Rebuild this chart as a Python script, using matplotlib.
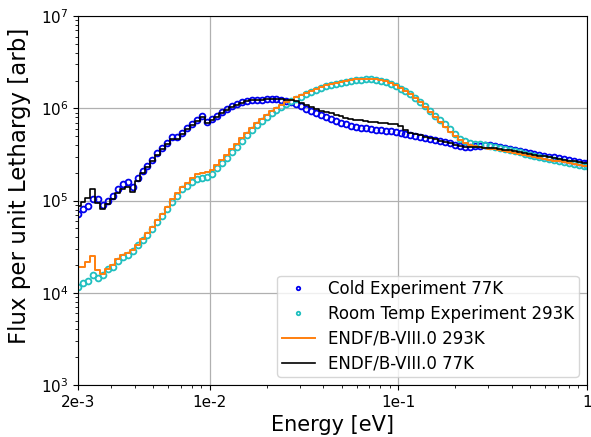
import matplotlib

matplotlib.use("Agg")
import matplotlib.pyplot as plt  # noqa: E402
from matplotlib.ticker import NullFormatter  # noqa: E402

# energy bin centres [eV], shared by all four series
ENERGY = [
    2.000e-3, 2.125e-3, 2.258e-3, 2.399e-3, 2.549e-3, 2.708e-3, 2.877e-3, 3.057e-3, 3.248e-3, 3.451e-3,
    3.666e-3, 3.895e-3, 4.138e-3, 4.397e-3, 4.672e-3, 4.963e-3, 5.273e-3, 5.603e-3, 5.953e-3, 6.325e-3,
    6.720e-3, 7.140e-3, 7.586e-3, 8.059e-3, 8.563e-3, 9.098e-3, 9.666e-3, 1.027e-2, 1.091e-2, 1.159e-2,
    1.232e-2, 1.309e-2, 1.390e-2, 1.477e-2, 1.570e-2, 1.668e-2, 1.772e-2, 1.883e-2, 2.000e-2, 2.125e-2,
    2.258e-2, 2.399e-2, 2.549e-2, 2.708e-2, 2.877e-2, 3.057e-2, 3.248e-2, 3.451e-2, 3.666e-2, 3.895e-2,
    4.138e-2, 4.397e-2, 4.672e-2, 4.963e-2, 5.273e-2, 5.603e-2, 5.953e-2, 6.325e-2, 6.720e-2, 7.140e-2,
    7.586e-2, 8.059e-2, 8.563e-2, 9.098e-2, 9.666e-2, 0.1027, 0.1091, 0.1159, 0.1232, 0.1309,
    0.1390, 0.1477, 0.1570, 0.1668, 0.1772, 0.1883, 0.2000, 0.2125, 0.2258, 0.2399,
    0.2549, 0.2708, 0.2877, 0.3057, 0.3248, 0.3451, 0.3666, 0.3895, 0.4138, 0.4397,
    0.4672, 0.4963, 0.5273, 0.5603, 0.5953, 0.6325, 0.6720, 0.7140, 0.7586, 0.8059,
    0.8563, 0.9098, 0.9666, 1.0,
]

COLD_EXP = [
    7.07e4, 8.01e4, 8.84e4, 1.05e5, 1.05e5, 9.06e4, 1.00e5, 1.13e5, 1.32e5, 1.53e5,
    1.61e5, 1.42e5, 1.77e5, 2.11e5, 2.39e5, 2.77e5, 3.30e5, 3.74e5, 4.24e5, 4.92e5,
    4.92e5, 5.44e5, 6.15e5, 6.80e5, 7.51e5, 8.30e5, 7.15e5, 7.70e5, 8.30e5, 9.17e5,
    9.88e5, 1.064e6, 1.119e6, 1.176e6, 1.205e6, 1.236e6, 1.236e6, 1.236e6, 1.267e6, 1.267e6,
    1.267e6, 1.236e6, 1.205e6, 1.176e6, 1.119e6, 1.064e6, 9.88e5, 9.40e5, 8.94e5, 8.51e5,
    8.09e5, 7.70e5, 7.33e5, 6.97e5, 6.80e5, 6.47e5, 6.31e5, 6.15e5, 6.15e5, 6.00e5,
    5.86e5, 5.86e5, 5.71e5, 5.71e5, 5.57e5, 5.44e5, 5.30e5, 5.17e5, 5.04e5, 4.92e5,
    4.80e5, 4.68e5, 4.57e5, 4.45e5, 4.34e5, 4.24e5, 4.03e5, 3.93e5, 3.84e5, 3.84e5,
    3.93e5, 3.93e5, 4.03e5, 4.03e5, 3.93e5, 3.84e5, 3.74e5, 3.65e5, 3.56e5, 3.47e5,
    3.39e5, 3.30e5, 3.22e5, 3.14e5, 3.07e5, 2.99e5, 2.99e5, 2.92e5, 2.85e5, 2.77e5,
    2.71e5, 2.64e5, 2.58e5, 2.58e5,
]

ROOM_EXP = [
    1.15e4, 1.27e4, 1.34e4, 1.55e4, 1.44e4, 1.55e4, 1.80e4, 1.89e4, 2.20e4, 2.43e4,
    2.55e4, 2.82e4, 3.27e4, 3.70e4, 4.19e4, 4.87e4, 5.79e4, 6.73e4, 8.01e4, 9.77e4,
    1.13e5, 1.32e5, 1.45e5, 1.61e5, 1.73e5, 1.77e5, 1.82e5, 1.96e5, 2.27e5, 2.58e5,
    2.92e5, 3.39e5, 3.84e5, 4.45e5, 5.17e5, 5.86e5, 6.63e5, 7.33e5, 8.09e5, 8.94e5,
    9.63e5, 1.038e6, 1.119e6, 1.205e6, 1.267e6, 1.332e6, 1.435e6, 1.508e6, 1.585e6, 1.666e6,
    1.751e6, 1.795e6, 1.840e6, 1.887e6, 1.934e6, 1.983e6, 2.033e6, 2.033e6, 2.084e6, 2.084e6,
    2.033e6, 1.983e6, 1.934e6, 1.840e6, 1.751e6, 1.625e6, 1.546e6, 1.435e6, 1.299e6, 1.176e6,
    1.064e6, 9.40e5, 8.30e5, 7.51e5, 6.80e5, 6.00e5, 5.30e5, 4.68e5, 4.45e5, 4.24e5,
    4.13e5, 4.13e5, 4.03e5, 3.93e5, 3.84e5, 3.74e5, 3.65e5, 3.56e5, 3.47e5, 3.39e5,
    3.22e5, 3.14e5, 3.07e5, 2.99e5, 2.92e5, 2.85e5, 2.77e5, 2.71e5, 2.64e5, 2.58e5,
    2.51e5, 2.45e5, 2.39e5, 2.39e5,
]

ENDF_293K = [
    1.89e4, 1.89e4, 2.14e4, 2.49e4, 1.76e4, 1.59e4, 1.80e4, 1.99e4, 2.31e4, 2.55e4,
    2.68e4, 2.89e4, 3.27e4, 3.80e4, 4.41e4, 5.12e4, 6.09e4, 7.07e4, 8.62e4, 1.05e5,
    1.22e5, 1.42e5, 1.57e5, 1.77e5, 1.96e5, 2.01e5, 2.06e5, 2.16e5, 2.45e5, 2.77e5,
    3.14e5, 3.65e5, 4.13e5, 4.80e5, 5.44e5, 6.15e5, 6.97e5, 7.70e5, 8.51e5, 9.40e5,
    1.013e6, 1.091e6, 1.176e6, 1.236e6, 1.332e6, 1.400e6, 1.471e6, 1.546e6, 1.625e6, 1.708e6,
    1.795e6, 1.840e6, 1.887e6, 1.934e6, 1.983e6, 2.033e6, 2.084e6, 2.084e6, 2.084e6, 2.084e6,
    2.084e6, 2.033e6, 1.983e6, 1.887e6, 1.795e6, 1.666e6, 1.546e6, 1.435e6, 1.299e6, 1.176e6,
    1.038e6, 9.17e5, 8.09e5, 7.15e5, 6.31e5, 5.57e5, 5.04e5, 4.57e5, 4.24e5, 4.03e5,
    3.93e5, 3.84e5, 3.74e5, 3.65e5, 3.65e5, 3.56e5, 3.47e5, 3.39e5, 3.30e5, 3.22e5,
    3.14e5, 3.07e5, 2.99e5, 2.92e5, 2.85e5, 2.77e5, 2.71e5, 2.71e5, 2.64e5, 2.58e5,
    2.51e5, 2.45e5, 2.39e5, 2.39e5,
]

ENDF_77K = [
    8.84e4, 9.77e4, 1.08e5, 1.35e5, 9.53e4, 8.01e4, 9.29e4, 1.05e5, 1.22e5, 1.32e5,
    1.42e5, 1.25e5, 1.65e5, 2.01e5, 2.33e5, 2.71e5, 3.14e5, 3.65e5, 4.13e5, 4.68e5,
    4.68e5, 5.30e5, 6.00e5, 6.63e5, 7.33e5, 8.09e5, 6.97e5, 7.51e5, 8.09e5, 8.94e5,
    9.63e5, 1.038e6, 1.091e6, 1.147e6, 1.205e6, 1.236e6, 1.236e6, 1.236e6, 1.267e6, 1.267e6,
    1.267e6, 1.267e6, 1.236e6, 1.236e6, 1.205e6, 1.147e6, 1.091e6, 1.038e6, 9.88e5, 9.40e5,
    9.17e5, 8.94e5, 8.51e5, 8.30e5, 7.89e5, 7.70e5, 7.51e5, 7.51e5, 7.33e5, 7.15e5,
    7.15e5, 6.97e5, 6.97e5, 6.80e5, 6.80e5, 6.47e5, 5.86e5, 5.44e5, 5.30e5, 5.17e5,
    4.92e5, 4.80e5, 4.68e5, 4.45e5, 4.34e5, 4.24e5, 4.03e5, 3.93e5, 3.84e5, 3.84e5,
    3.84e5, 3.84e5, 3.74e5, 3.74e5, 3.74e5, 3.65e5, 3.56e5, 3.56e5, 3.47e5, 3.39e5,
    3.30e5, 3.22e5, 3.14e5, 3.07e5, 3.07e5, 2.99e5, 2.92e5, 2.85e5, 2.77e5, 2.71e5,
    2.71e5, 2.64e5, 2.58e5, 2.58e5,
]

XTICKS = [2e-3, 1e-2, 1e-1, 1]
XTICK_LABELS = ["2e-3", "1e-2", "1e-1", "1"]


def main():
    fig = plt.figure(figsize=(5.91, 4.37), dpi=100)
    ax = fig.add_axes([0.132, 0.119, 0.861, 0.844])

    marker_kw = dict(linestyle="none", marker="o", markersize=4.2,
                     markerfacecolor="none", markeredgewidth=1.3)
    ax.plot(ENERGY, COLD_EXP, color="#0000ee", label="Cold Experiment 77K", **marker_kw)
    ax.plot(ENERGY, ROOM_EXP, color="#1fbfbf", label="Room Temp Experiment 293K", **marker_kw)
    ax.plot(ENERGY, ENDF_293K, color="#ff7f0e", linewidth=1.4,
            drawstyle="steps-mid", label="ENDF/B-VIII.0 293K")
    ax.plot(ENERGY, ENDF_77K, color="black", linewidth=1.2,
            drawstyle="steps-mid", label="ENDF/B-VIII.0 77K")

    ax.set_xscale("log")
    ax.set_yscale("log")
    ax.set_xlim(2e-3, 1)
    ax.set_ylim(1e3, 1e7)
    ax.set_xticks(XTICKS)
    ax.set_xticklabels(XTICK_LABELS)
    ax.xaxis.set_minor_formatter(NullFormatter())
    ax.tick_params(labelsize=11)
    ax.grid(True, which="major", color="#b0b0b0", linewidth=0.9)

    ax.set_xlabel("Energy [eV]", fontsize=15)
    ax.set_ylabel("Flux per unit Lethargy [arb]", fontsize=16.5)
    ax.yaxis.set_label_coords(-0.092, 0.54)
    ax.legend(loc="lower right", fontsize=12, markerscale=0.6,
              labelspacing=0.41, borderpad=0.25)

    fig.savefig("out.png", dpi=100)
    plt.close(fig)


if __name__ == "__main__":
    main()
